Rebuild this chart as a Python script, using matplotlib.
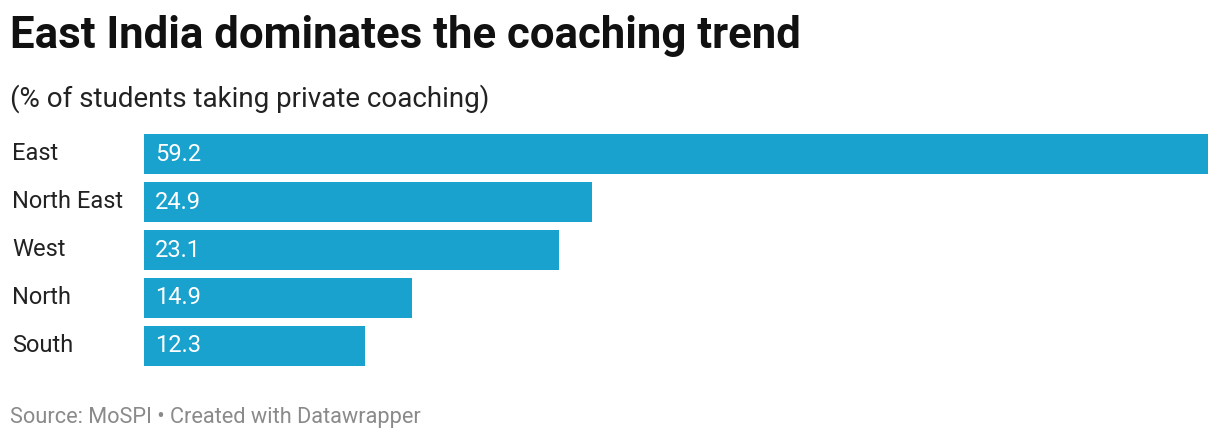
import matplotlib
matplotlib.use('Agg')
import matplotlib.pyplot as plt

regions = ['East', 'North East', 'West', 'North', 'South']
shares = [59.2, 24.9, 23.1, 14.9, 12.3]

W, H = 1220, 442
fig = plt.figure(figsize=(W / 100, H / 100), dpi=100)
plt.rcParams['font.family'] = ['Roboto', 'DejaVu Sans']

# axes placed in pixel terms
left, right, top, bottom = 144, 1208, 130, 370
ax = fig.add_axes([left / W, 1 - bottom / H, (right - left) / W, (bottom - top) / H])
ax.barh(range(len(regions)), shares, height=40 / 48, color='#1aa2cf')
ax.set_xlim(0, max(shares))
ax.set_ylim(len(regions) - 0.5, -0.5)
ax.axis('off')

for i, (r, v) in enumerate(zip(regions, shares)):
    ax.text(0.6, i, f'{v:.1f}', va='center', ha='left', color='white', fontsize=17)
    fig.text(12 / W, 1 - (154 + 48 * i) / H, r, va='center', ha='left', fontsize=17, color='#222222')

fig.text(10 / W, 1 - 36 / H, 'East India dominates the coaching trend', fontsize=31.5,
         fontweight='bold', va='center', ha='left', color='#111111')
fig.text(10 / W, 1 - 99 / H, '(% of students taking private coaching)', fontsize=20,
         va='center', ha='left', color='#222222')
fig.text(10 / W, 1 - 418 / H, 'Source: MoSPI • Created with Datawrapper', fontsize=15.7,
         va='center', ha='left', color='#8a8a8a')

fig.savefig('out.png', dpi=100)
